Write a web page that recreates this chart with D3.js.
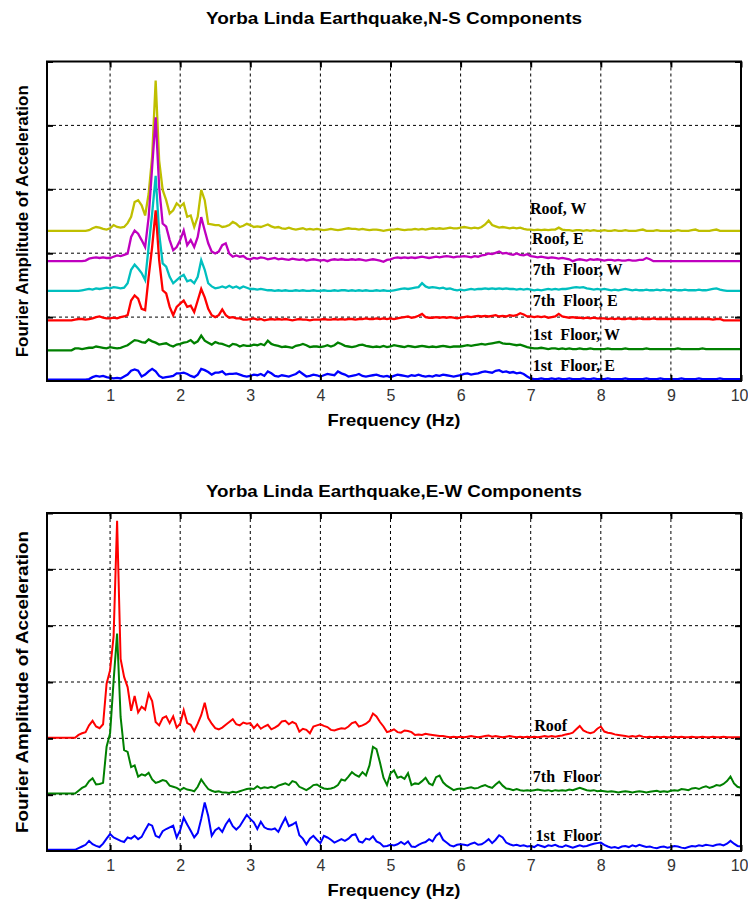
<!DOCTYPE html>
<html lang="en">
<head>
  <meta charset="UTF-8">
  <title>Yorba Linda Earthquake</title>
  <script src="https://cdn.jsdelivr.net/npm/d3@7"></script>
  <style>
    body { margin: 0; background: #fff; }
    text { font-family: "Liberation Sans", Arial, sans-serif; }
    .title, .xlabel, .ylabel { font-weight: bold; font-size: 17px; fill: #000; }
    .tick text { font-size: 16px; fill: #333; }
    .series-label {
      font-family: "Liberation Serif", "Times New Roman", serif;
      font-weight: bold; font-size: 16px; fill: #000; white-space: pre;
    }
  </style>
</head>
<body>
<div id="app"></div>
<script>
  // frequency grid, 0.10 .. 10.00 Hz every 0.05 Hz
  const freqs = d3.range(2, 201).map(i => +(i * 0.05).toFixed(2))
  const xTicks = [1, 2, 3, 4, 5, 6, 7, 8, 9, 10]

  // ---- N-S components (amplitude above each trace's baseline) ----
  const nsRoofW = [
    0,0,0,0,0,0,0,0,0,0,0,0,0.1,0.4,0.6,0.5,0.3,0.2,
    0.4,0.9,0.6,0.5,0.6,1.2,2.2,4.5,4.8,4.0,2.4,5.8,11.6,23.5,11.0,6.4,4.8,2.7,3.2,4.3,
    3.8,4.3,2.2,2.4,0.6,2.2,6.4,4.8,1.1,1.0,0.9,0.9,0.6,0.7,0.9,1.4,1.1,0.6,0.8,1.1,
    0.9,0.6,0.7,0.6,0.8,1.0,0.7,0.5,0.6,0.4,0.3,0.5,0.3,0.2,0.3,0.4,0.2,0.3,0.2,0.3,
    0.2,0.1,0.2,0.3,0.2,0.1,0.2,0.3,0.4,0.3,0.3,0.2,0.3,0.2,0.1,0.2,0.2,0.1,0.0,0.1,
    0.2,0.2,0.3,0.2,0.1,0.2,0.2,0.3,0.2,0.3,0.2,0.3,0.4,0.3,0.4,0.3,0.4,0.5,0.4,0.4,
    0.5,0.6,0.5,0.4,0.5,0.4,0.6,1.0,1.6,0.9,0.7,0.5,0.6,0.5,0.4,0.5,0.4,0.5,0.3,0.2,
    0.2,0.1,0.2,0.1,0.2,0.1,0.2,0.2,0.5,0.2,0.1,0.1,0.0,0.1,0.1,0.0,0.1,0.0,0.1,0.0,
    0.0,0.1,0.0,0.0,0.1,0.0,0.0,0.1,0.0,0.0,0.0,0.1,0.2,0.0,0.0,0.0,0.1,0.0,0.0,0.0,
    0.0,0.0,0.1,0.0,0.0,0.0,0.1,0.2,0.0,0.0,0.0,0.0,0.1,0.2,0.0,0.0,0.0,0.0,0.0,0.0,
    0.0
  ]
  const nsRoofE = [
    0,0,0,0,0,0,0,0,0,0,0,0.1,0.4,0.5,0.6,0.5,0.6,0.5,
    0.5,0.7,0.9,0.8,1.0,1.2,3.8,4.8,4.3,3.3,2.2,6.9,14.7,22.5,11.6,5.9,5.4,3.3,1.7,2.2,
    3.3,4.8,2.5,3.3,2.2,3.8,6.9,4.8,2.8,1.5,1.2,1.5,2.5,2.8,1.2,0.7,0.9,0.7,0.8,0.4,
    0.3,0.5,0.4,0.6,0.5,0.3,0.4,0.5,0.3,0.4,0.3,0.2,0.4,0.3,0.2,0.3,0.1,0.2,0.3,0.2,
    0.1,0.2,0.0,0.2,0.3,0.2,0.3,0.2,0.2,0.3,0.2,0.3,0.2,0.1,0.2,0.3,0.2,0.1,-0.1,0.2,
    0.3,0.5,0.6,0.5,0.6,0.5,0.6,0.5,0.6,0.7,0.6,0.5,0.6,0.7,0.6,0.7,0.8,0.7,0.6,0.7,
    0.7,0.8,0.7,0.6,0.8,0.7,0.9,1.0,1.2,1.1,1.3,1.5,1.2,1.3,1.1,1.0,1.2,1.0,0.9,1.1,
    0.8,0.7,0.6,0.7,0.6,0.5,0.6,0.5,0.4,0.5,0.4,0.3,0.0,0.2,0.3,0.2,0.1,0.3,0.2,0.3,
    0.2,0.1,0.2,0.2,0.1,0.2,0.1,0.1,0.2,0.1,0.1,0.2,0.2,0.5,0.3,0.0,0.0,0.0,0.0,0.0,
    0,0,0,0,0,0,0,0,0,0,0,0,0,0,0,0,0,0,0,0,
    0
  ]
  const ns7thW = [
    0,0,0,0,0,0,0,0,0,0,0.1,0.2,0.3,0.2,0.4,0.3,0.4,0.5,
    0.4,0.6,0.5,0.4,0.5,1.2,3.3,4.1,3.5,2.8,1.7,6.9,12.1,18.0,9.0,4.3,3.8,2.2,1.2,1.7,
    2.2,2.5,1.5,1.7,1.2,2.2,4.8,3.3,1.2,0.7,0.4,0.5,0.7,0.5,0.8,0.5,0.7,0.4,0.7,0.5,
    0.3,0.3,0.2,0.3,0.2,0.1,0.1,0.0,0.1,0.0,0.1,0.0,0.0,0.1,0.0,0.1,0.0,0.0,0.1,0.0,
    0.0,0.1,0.0,0.0,0.1,0.0,0.1,0.1,0.0,0.1,0.0,0.1,0.0,0.1,0.0,0.0,0.1,0.0,0.1,0.0,
    0.0,0.1,0.2,0.3,0.4,0.3,0.4,0.5,0.6,1.2,0.7,0.5,0.6,0.5,0.4,0.5,0.3,0.4,0.2,0.1,
    0.2,0.1,0.2,0.3,0.2,0.3,0.3,0.4,0.3,0.4,0.3,0.4,0.3,0.4,0.3,0.3,0.2,0.3,0.2,0.3,
    0.2,0.1,0.2,0.1,0.2,0.3,0.2,0.3,0.2,0.3,0.3,0.4,0.5,0.6,0.5,0.6,0.4,0.3,0.2,0.3,
    0.2,0.3,0.2,0.1,0.2,0.1,0.2,0.3,0.2,0.1,0.2,0.1,0.1,0.2,0.1,0.1,0.2,0.1,0.2,0.1,
    0.1,0.2,0.1,0.1,0.2,0.1,0.1,0.1,0.2,0.1,0.1,0.2,0.3,0.4,0.2,0.1,0.0,0.0,0.0,0.0,
    0.0
  ]
  const ns7thE = [
    0,0,0,0,0,0,0,0,0.1,0.2,0.2,0.1,0.2,0.3,0.5,0.6,0.4,0.3,
    0.3,0.4,0.3,0.5,0.6,0.8,3.1,3.9,3.4,1.8,1.6,6.8,11.5,17.2,9.4,4.7,4.2,2.1,0.8,2.1,
    2.6,3.1,2.1,2.3,1.3,3.1,4.9,3.6,1.8,0.8,0.5,0.8,1.7,0.8,0.4,0.5,0.3,0.3,0.1,0.1,
    0.2,0.3,0.1,0.2,0.0,0.1,0.2,0.1,0.2,0.1,0.2,0.1,0.0,0.1,0.2,0.1,0.1,0.0,0.1,0.1,
    0.1,0.2,0.1,0.1,0.2,0.1,0.2,0.1,0.2,0.2,0.1,0.2,0.2,0.3,0.2,0.2,0.3,0.2,0.3,0.2,
    0.3,0.2,0.3,0.4,0.5,0.6,0.4,0.5,0.7,1.0,0.5,0.4,0.4,0.5,0.4,0.5,0.4,0.5,0.4,0.3,
    0.4,0.5,0.6,0.5,0.6,0.7,0.6,0.7,0.6,0.7,0.8,0.6,0.7,0.6,0.8,0.7,0.8,1.1,0.9,0.6,
    0.6,0.5,0.6,0.5,0.6,0.4,0.5,0.6,1.0,0.6,0.5,0.4,0.5,0.4,0.4,0.3,0.4,0.3,0.4,0.3,
    0.3,0.3,0.2,0.3,0.2,0.3,0.2,0.2,0.3,0.2,0.2,0.3,0.2,0.2,0.2,0.3,0.2,0.2,0.2,0.2,
    0.2,0.2,0.2,0.2,0.2,0.2,0.2,0.2,0.2,0.2,0.2,0.2,0.1,0.2,0.2,0.0,0.0,0.0,0.0,0.0,
    0.0
  ]
  const ns1stW = [
    0,0,0,0,0,0,0,0,0.3,0.3,0.2,0.3,0.4,0.4,0.6,0.5,0.4,0.3,
    0.5,0.4,0.3,0.4,0.6,0.8,1.2,1.6,1.5,1.3,1.2,1.7,1.4,1.2,0.9,1.0,1.1,0.8,0.6,0.9,
    1.0,1.2,1.3,1.6,1.1,1.4,2.3,1.5,1.2,0.9,1.3,1.1,1.0,0.8,0.6,1.0,0.9,0.6,0.8,0.7,
    0.7,0.9,0.8,1.0,0.8,1.5,1.0,0.8,0.7,0.5,0.6,0.5,0.4,0.7,0.8,1.0,0.8,0.5,0.6,0.6,
    0.5,0.6,0.8,0.6,0.8,1.2,1.0,0.7,0.6,0.5,0.6,0.8,0.9,0.7,0.6,0.5,0.6,0.5,0.7,0.5,
    0.6,0.8,0.7,0.6,0.5,0.7,0.6,0.5,0.6,0.7,0.6,0.5,0.6,0.5,0.6,0.7,0.6,0.5,0.6,0.6,
    0.6,0.7,0.8,0.7,0.8,0.9,1.0,0.9,1.0,1.1,1.2,1.3,1.1,1.0,1.0,0.9,0.8,0.9,0.7,0.5,
    0.4,0.3,0.3,0.4,0.3,0.2,0.3,0.3,0.2,0.3,0.2,0.3,0.2,0.2,0.3,0.2,0.2,0.3,0.2,0.2,
    0.2,0.2,0.3,0.2,0.2,0.2,0.2,0.3,0.2,0.2,0.2,0.2,0.2,0.3,0.2,0.2,0.2,0.2,0.2,0.2,
    0.2,0.2,0.3,0.2,0.2,0.2,0.2,0.2,0.2,0.3,0.2,0.2,0.2,0.2,0.2,0.2,0.2,0.2,0.2,0.2,
    0.2
  ]
  const ns1stE = [
    0,0,0,0,0,0,0,0,0,0,0,0,0.1,0.4,0.6,0.5,0.6,0.4,
    0.3,0.2,0.3,0.2,0.5,0.8,1.4,1.6,1.4,0.5,0.8,1.3,1.7,1.3,0.6,0.3,0.4,0.5,0.6,1.0,
    1.0,1.1,0.9,0.6,0.4,0.8,1.7,1.5,1.2,0.8,1.1,1.1,1.3,0.8,0.9,0.9,1.0,0.8,0.6,0.5,
    0.6,0.8,0.7,0.9,0.6,1.3,1.0,0.6,0.5,0.7,0.6,0.5,0.7,0.9,1.3,0.9,0.5,0.6,0.8,0.7,
    0.5,0.7,0.9,0.8,0.7,1.3,1.0,0.8,0.5,0.6,0.7,0.9,0.6,0.5,0.6,0.7,0.8,0.6,0.5,0.6,
    0.4,0.6,0.8,0.7,0.6,0.5,0.7,0.6,0.8,0.6,0.5,0.6,0.5,0.7,0.6,0.8,0.7,0.6,0.5,0.6,
    0.7,0.9,1.0,0.8,0.9,1.0,1.2,1.3,1.2,1.1,1.4,1.5,1.2,1.3,1.1,1.2,1.0,1.1,0.9,0.5,
    0.2,0.1,0.1,0.2,0.1,0.1,0.2,0.1,0.2,0.1,0.1,0.2,0.1,0.1,0.1,0.2,0.1,0.1,0.2,0.1,
    0.1,0.1,0.2,0.1,0.1,0.1,0.1,0.2,0.1,0.1,0.1,0.1,0.1,0.2,0.1,0.1,0.1,0.2,0.1,0.1,
    0.1,0.1,0.1,0.2,0.1,0.1,0.1,0.1,0.2,0.1,0.1,0.1,0.1,0.1,0.2,0.1,0.1,0.1,0.1,0.1,
    0.1
  ]
  const nsNames = ['Roof, W', 'Roof, E', '7th  Floor, W', '7th  Floor, E', '1st  Floor, W', '1st  Floor, E']
  const nsOffsets = [23.5, 18.75, 14.1, 9.5, 4.8, 0.2]

  // ---- E-W components ----
  const ewRoof = [
    0,0,0,0,0,0,0,0,0,0.5,0.8,1.0,2.2,3.0,2.0,1.7,2.4,9.6,
    12.0,18.0,38.5,14.0,10.8,9.0,4.8,7.4,4.5,5.5,5.0,7.8,6.5,2.8,2.2,3.5,3.8,2.6,3.8,1.8,
    2.5,4.9,2.6,2.3,1.2,2.5,4.0,6.2,3.5,2.5,1.7,1.5,1.8,2.3,2.8,3.3,2.4,2.2,2.7,2.5,
    2.6,1.7,2.4,1.6,2.0,2.3,1.5,1.8,2.2,2.9,3.0,2.4,2.8,2.5,1.1,1.6,1.4,0.8,2.0,2.2,
    2.4,2.1,1.9,1.4,1.3,1.5,1.7,1.6,2.0,2.6,2.8,2.0,2.2,2.5,3.0,4.3,3.8,2.8,2.0,1.0,
    1.2,1.5,1.0,0.9,1.3,1.2,1.0,0.5,0.6,0.5,0.7,0.6,0.5,0.4,0.3,0.3,0.2,0.1,0.2,0.1,
    0.2,0.1,0.2,0.3,0.2,0.1,0.2,0.3,0.4,0.2,0.3,0.2,0.1,0.2,0.3,0.2,0.1,0.2,0.1,0.2,
    0.1,0.2,0.1,0.2,0.3,0.2,0.3,0.2,0.3,0.4,0.6,0.7,0.9,1.5,2.1,1.3,1.0,0.8,1.0,1.6,
    2.0,1.1,0.9,0.8,0.6,0.5,0.4,0.3,0.2,0.3,0.2,0.4,0.2,0.1,0.2,0.1,0.2,0.1,0.2,0.1,
    0.1,0.2,0.1,0.2,0.1,0.1,0.2,0.1,0.1,0.2,0.1,0.1,0.2,0.1,0.1,0.2,0.1,0.1,0.1,0.1,
    0.1
  ]
  const ew7th = [
    0,0,0,0,0,0,0,0,0,0.5,1.0,1.3,2.2,2.7,1.6,1.7,1.9,8.3,
    10.7,20.0,28.4,13.6,7.7,7.4,4.7,5.0,3.0,3.4,3.2,3.7,2.5,1.9,2.1,2.4,2.2,1.4,1.2,1.0,
    0.6,1.0,0.7,0.6,0.4,1.2,2.5,1.6,0.8,0.5,0.3,0.4,0.2,0.2,0.1,0.3,0.2,0.4,0.6,0.8,
    0.9,0.8,1.3,0.9,1.1,1.0,1.2,1.0,1.4,1.6,1.8,1.5,2.2,2.0,1.2,0.9,0.6,1.0,1.5,1.6,
    1.2,0.9,0.8,0.9,1.1,1.5,2.5,2.3,3.0,3.8,3.3,3.0,3.8,3.2,5.0,8.3,7.9,5.5,2.8,1.5,
    3.6,4.1,2.8,3.0,2.6,3.6,1.5,1.8,1.7,2.2,2.8,1.8,1.5,2.9,3.2,2.0,1.4,1.0,0.6,0.8,
    0.9,0.8,1.0,1.1,0.9,1.0,1.3,1.5,1.2,1.0,1.6,2.1,1.4,0.9,0.8,0.6,0.8,0.6,0.5,0.6,
    0.5,0.6,0.7,0.6,0.5,0.6,0.4,0.6,0.5,0.6,0.5,0.7,0.6,0.8,1.0,0.8,0.6,0.5,0.6,0.4,
    0.5,0.4,0.3,0.4,0.3,0.2,0.3,0.4,0.3,0.2,0.3,0.4,0.3,0.2,0.3,0.4,0.5,0.3,0.4,0.3,
    0.5,0.6,0.5,0.8,0.7,0.6,0.9,1.0,0.8,1.1,1.3,1.0,1.2,1.5,1.4,1.7,2.2,3.0,1.8,1.2,
    1.0
  ]
  const ew1st = [
    0,0,0,0,0,0,0,0,0,0.3,0.6,0.9,1.6,1.0,0.7,0.5,1.1,2.0,
    2.8,2.2,1.9,1.6,1.4,2.2,2.0,2.5,1.9,2.3,3.5,4.6,4.3,2.5,2.2,3.3,3.7,4.0,4.3,2.2,
    3.5,5.7,4.5,3.4,2.2,3.0,5.5,8.4,6.0,2.5,3.5,3.9,3.2,4.5,5.4,4.2,3.6,4.2,5.2,6.2,
    5.5,4.9,3.7,5.0,4.0,3.7,3.6,3.8,3.2,4.5,5.7,4.2,4.5,4.9,2.6,2.0,1.0,2.0,2.5,1.8,
    1.2,2.5,2.2,1.8,1.3,1.6,1.9,1.6,2.0,2.6,2.8,1.5,1.3,2.0,1.8,2.4,1.5,1.2,0.6,0.7,
    0.9,0.8,1.0,1.4,1.0,1.5,0.6,0.5,0.9,1.2,1.4,1.9,1.5,2.5,3.0,1.8,1.3,0.8,0.6,0.9,
    1.0,0.9,0.8,1.1,1.3,0.9,1.0,1.4,1.9,1.2,1.8,2.6,2.2,1.3,1.0,0.8,0.9,0.7,0.8,0.6,
    0.7,0.5,0.9,0.7,0.5,0.8,0.7,0.9,0.6,0.5,0.8,0.6,0.4,0.6,0.8,0.6,0.7,0.9,1.1,1.2,
    1.3,0.9,0.6,0.4,0.5,0.3,0.6,0.7,0.5,0.8,0.6,0.9,0.7,0.5,0.6,0.4,0.3,0.5,0.6,0.4,
    0.5,0.7,0.6,0.4,0.3,0.5,0.7,0.6,0.8,0.7,0.9,0.8,0.7,0.9,1.0,0.8,1.1,1.6,1.1,0.7,
    0.6
  ]
  const ewNames = ['Roof', '7th  Floor', '1st  Floor']
  const ewOffsets = [20.1, 10.2, 0.2]

  const W = 748, H = 900
  const left = 47, right = 741

  const svg = d3.select('#app').append('svg')
    .attr('width', W)
    .attr('height', H)

  const x = d3.scaleLinear().domain([0.1, 10]).range([left, right])

  const charts = [
    {
      id: 'ns', title: 'Yorba Linda Earthquake,N-S Components',
      top: 61.5, bottom: 381, yMax: 50, yGrid: [10, 20, 30, 40],
      series: [nsRoofW, nsRoofE, ns7thW, ns7thE, ns1stW, ns1stE],
      names: nsNames, offsets: nsOffsets,
      colors: ['#bfbf00', '#bf00bf', '#00bfbf', '#ff0000', '#008000', '#0000ff'],
      labelY: [26.1, 21.4, 16.6, 11.7, 6.4, 1.6], labelX: [6.99, 7.02, 7.03, 7.03, 7.03, 7.03],
      width: 2.3, titleY: 24, titleLen: 376, yLabelLen: 272
    },
    {
      id: 'ew', title: 'Yorba Linda Earthquake,E-W Components',
      top: 513, bottom: 851, yMax: 60, yGrid: [10, 20, 30, 40, 50],
      series: [ewRoof, ew7th, ew1st],
      names: ewNames, offsets: ewOffsets,
      colors: ['#ff0000', '#008000', '#0000ff'],
      labelY: [21.3, 12.2, 1.8], labelX: [7.05, 7.03, 7.07],
      width: 2, titleY: 497, titleLen: 376, yLabelLen: 302
    }
  ]

  charts.forEach(c => {
    const y = d3.scaleLinear().domain([0, c.yMax]).range([c.bottom, c.top])
    const g = svg.append('g')

    g.append('clipPath').attr('id', 'clip-' + c.id)
      .append('rect')
      .attr('x', left).attr('y', c.top)
      .attr('width', right - left).attr('height', c.bottom - c.top)

    // dashed grid
    const grid = g.append('g').attr('stroke', '#000').attr('stroke-width', 1)
      .attr('stroke-dasharray', '3,3')
    grid.selectAll('.vg').data(xTicks.slice(0, -1)).enter().append('line')
      .attr('x1', d => x(d)).attr('x2', d => x(d))
      .attr('y1', c.top).attr('y2', c.bottom)
    grid.selectAll('.hg').data(c.yGrid).enter().append('line')
      .attr('x1', left).attr('x2', right)
      .attr('y1', d => y(d)).attr('y2', d => y(d))

    // traces
    const line = d3.line()
    const traces = g.append('g').attr('clip-path', `url(#clip-${c.id})`)
    c.series.forEach((vals, i) => {
      const off = c.offsets[i]
      traces.append('path')
        .attr('fill', 'none')
        .attr('stroke', c.colors[i])
        .attr('stroke-width', c.width)
        .attr('stroke-linejoin', 'miter')
        .attr('d', line(vals.map((v, k) => [x(freqs[k]), y(v + off)])))
    })

    // inward ticks on all four sides
    const tickW = 2
    g.append('g').attr('transform', `translate(0,${c.bottom})`)
      .call(d3.axisBottom(x).tickValues(xTicks).tickSize(-6).tickPadding(9).tickFormat(d3.format('d')))
      .call(a => a.select('.domain').remove())
      .call(a => a.selectAll('line').attr('stroke-width', tickW))
      .call(a => a.selectAll('text').attr('font-family', null).attr('font-size', null))
      .call(a => a.selectAll('text').filter(d => d === 10).attr('text-anchor', 'end').attr('dx', 7))
    g.append('g').attr('transform', `translate(0,${c.top})`)
      .call(d3.axisTop(x).tickValues(xTicks).tickSize(-6).tickFormat(''))
      .call(a => a.select('.domain').remove())
      .call(a => a.selectAll('line').attr('stroke-width', tickW))
    g.append('g').attr('transform', `translate(${left},0)`)
      .call(d3.axisLeft(y).tickValues(c.yGrid.concat([c.yMax])).tickSize(-6).tickFormat(''))
      .call(a => a.select('.domain').remove())
      .call(a => a.selectAll('line').attr('stroke-width', tickW))
    g.append('g').attr('transform', `translate(${right},0)`)
      .call(d3.axisRight(y).tickValues(c.yGrid.concat([c.yMax])).tickSize(-6).tickFormat(''))
      .call(a => a.select('.domain').remove())
      .call(a => a.selectAll('line').attr('stroke-width', tickW))

    // frame
    g.append('rect')
      .attr('x', left).attr('y', c.top)
      .attr('width', right - left).attr('height', c.bottom - c.top)
      .attr('fill', 'none').attr('stroke', '#000').attr('stroke-width', 2)

    // trace labels
    g.selectAll('.series-label').data(c.names).enter().append('text')
      .attr('class', 'series-label')
      .attr('x', (d, i) => x(c.labelX[i]))
      .attr('y', (d, i) => y(c.labelY[i]))
      .text(d => d)

    // titles
    const mid = (left + right) / 2
    g.append('text').attr('class', 'title')
      .attr('x', mid).attr('y', c.titleY)
      .attr('text-anchor', 'middle')
      .attr('textLength', c.titleLen).attr('lengthAdjust', 'spacingAndGlyphs')
      .text(c.title)
    g.append('text').attr('class', 'xlabel')
      .attr('x', mid).attr('y', c.bottom + 45)
      .attr('text-anchor', 'middle')
      .attr('textLength', 133).attr('lengthAdjust', 'spacingAndGlyphs')
      .text('Frequency (Hz)')
    g.append('text').attr('class', 'ylabel')
      .attr('transform', `translate(28,${(c.top + c.bottom) / 2}) rotate(-90)`)
      .attr('text-anchor', 'middle')
      .attr('textLength', c.yLabelLen).attr('lengthAdjust', 'spacingAndGlyphs')
      .text('Fourier Amplitude of Acceleration')
  })
</script>
</body>
</html>
